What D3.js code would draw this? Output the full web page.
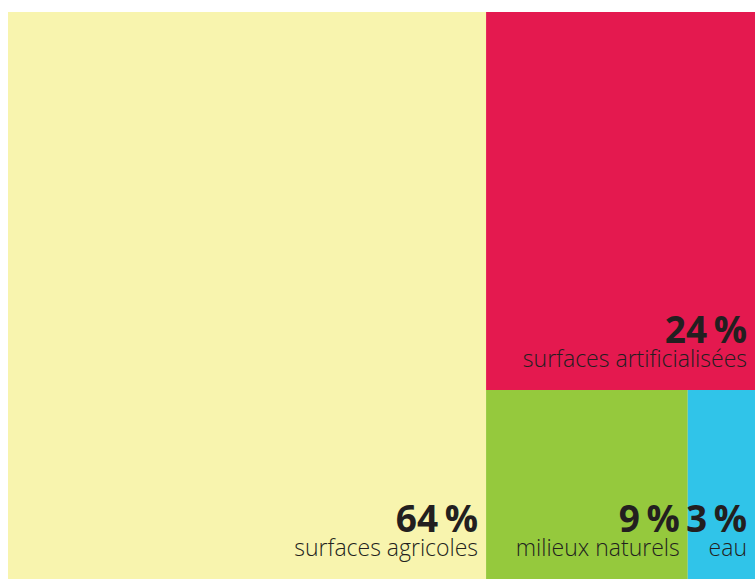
<!DOCTYPE html>
<html>
<head>
<meta charset="utf-8">
<script src="https://cdn.jsdelivr.net/npm/d3@7"></script>
<style>
  body { margin: 0; background: #fff; }
  svg { display: block; }
</style>
</head>
<body>
<svg id="canvas"></svg>
<script>
// land use shares (%)
const labels = ["surfaces agricoles", "surfaces artificialisées", "milieux naturels", "eau"];
const values = [64, 24, 9, 3];
const colors = ["#f8f4ae", "#e4194f", "#95c93d", "#30c4e9"];

const width = 755;
const height = 579;
const svg = d3.select("#canvas").attr("width", width).attr("height", height);

// margins
const marginTop = 12;
const marginLeft = 8;
const pad = 8; // text inset from the right edge of a cell

// nested so slice/dice gives: left column | (top / (left | right))
const tree = {
    children: [
        { i: 0, value: values[0] },
        { children: [
            { i: 1, value: values[1] },
            { children: [
                { i: 2, value: values[2] },
                { i: 3, value: values[3] }
            ] }
        ] }
    ]
};

const root = d3.hierarchy(tree).sum(d => d.value || 0);
d3.treemap()
    .tile(d3.treemapSliceDice)
    .size([width - marginLeft, height - marginTop])
    (root);

const g = svg.append("g").attr("transform", `translate(${marginLeft},${marginTop})`);

const cell = g.selectAll("g.cell")
    .data(root.leaves())
    .join("g")
    .attr("class", "cell");

cell.append("rect")
    .attr("x", d => d.x0)
    .attr("y", d => d.y0)
    .attr("width", d => d.x1 - d.x0)
    .attr("height", d => d.y1 - d.y0)
    .attr("fill", d => colors[d.data.i]);

// percentage + label, right aligned in the bottom corner
cell.append("text")
    .attr("x", d => d.x1 - pad)
    .attr("y", d => d.y1 - 47)
    .attr("text-anchor", "end")
    .attr("font-family", "'Open Sans', sans-serif")
    .attr("font-weight", 700)
    .attr("font-size", 37)
    .attr("word-spacing", -3)
    .attr("fill", "#231f20")
    .text(d => values[d.data.i] + " %");

cell.append("text")
    .attr("x", d => d.x1 - pad)
    .attr("y", d => d.y1 - 23)
    .attr("text-anchor", "end")
    .attr("font-family", "'Open Sans', sans-serif")
    .attr("font-weight", 300)
    .attr("font-size", 23)
    .attr("fill", "#231f20")
    .text(d => labels[d.data.i]);
</script>
</body>
</html>
